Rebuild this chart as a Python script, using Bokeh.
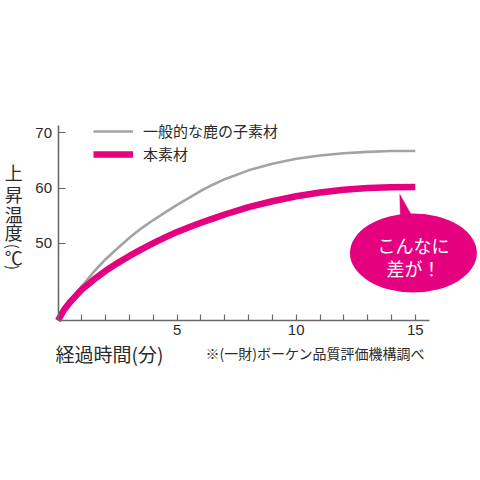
import math
from bokeh.plotting import figure
from bokeh.models import Range1d, FixedTicker, Legend, LegendItem, LinearAxis
from bokeh.core.properties import value
from bokeh.embed import file_html
from bokeh.resources import INLINE

# ---- data ----
minutes = [0, 0.25, 0.5, 1, 1.5, 2, 2.5, 3, 3.5, 4, 4.5, 5, 5.5, 6, 6.5, 7, 8, 9, 10, 11, 12, 13, 14, 15]
general_temp = [36.0, 38.0, 39.5, 42.2, 44.8, 47.1, 49.1, 51.0, 52.7, 54.2, 55.6, 56.95, 58.2, 59.5,
                60.6, 61.6, 63.2, 64.4, 65.3, 65.9, 66.3, 66.55, 66.7, 66.7]
our_temp = [36.0, 37.9, 39.3, 41.6, 43.4, 45.0, 46.4, 47.7, 48.9, 50.0, 51.05, 52.05, 52.9, 53.7,
            54.45, 55.2, 56.55, 57.6, 58.5, 59.2, 59.7, 60.0, 60.15, 60.2]
series_names = ["一般的な鹿の子素材", "本素材"]
x_ticks = list(range(1, 16))
x_tick_labels = {5: "5", 10: "10", 15: "15"}
y_ticks = [50, 60, 70]
ylabel_chars = ["上", "昇", "温", "度", "℃"]
ylabel_parens = ["(", ")"]
xlabel_text = "経過時間(分)"
note_text = "※(一財)ボーケン品質評価機構調べ"
bubble_lines = ["こんなに", "差が！"]

PINK = "#E4007F"
GRAY = "#A3A3A3"
AXIS = "#6a6a6a"
TEXT = "#2b2b2b"
JP = "Noto Sans CJK JP"

# scale: x=0 at 57.5px, 23.82 px/min ; y=36 at 320px, 5.52 px/deg
W = H = 480
X0_PX, XS = 57.5, 23.82
Y0_PX, YS = 320.0, 5.52
x_rng = Range1d(-X0_PX / XS, (W - X0_PX) / XS)
y_rng = Range1d(36 - (H - Y0_PX) / YS, 36 + Y0_PX / YS)

p = figure(width=W, height=H, output_backend="svg", toolbar_location=None,
           x_range=x_rng, y_range=y_rng, x_axis_location=None, y_axis_location=None,
           min_border=0)
p.outline_line_color = None
p.xgrid.visible = False
p.ygrid.visible = False
p.background_fill_color = "white"
p.border_fill_color = "white"

xaxis = LinearAxis(fixed_location=36, ticker=FixedTicker(ticks=x_ticks), bounds=(0, 15.6))
xaxis.major_label_overrides = {t: x_tick_labels.get(t, "") for t in x_ticks}
yaxis = LinearAxis(fixed_location=0, ticker=FixedTicker(ticks=y_ticks), bounds=(36, 71.33))
for ax in (xaxis, yaxis):
    ax.axis_line_color = AXIS
    ax.axis_line_width = 1.6
    ax.major_tick_line_color = AXIS
    ax.major_tick_line_width = 1.2
    ax.major_tick_out = 0
    ax.minor_tick_line_color = None
    ax.major_label_text_font = "Liberation Sans"
    ax.major_label_text_font_size = "15px"
    ax.major_label_text_color = TEXT
xaxis.major_tick_in = 6
yaxis.major_tick_in = 7
xaxis.major_label_standoff = 4
yaxis.major_label_standoff = 6
p.add_layout(xaxis, "below")
p.add_layout(yaxis, "left")

# series
r_gen = p.line(minutes, general_temp, line_color=GRAY, line_width=2.6, line_join="round")
r_our = p.line(minutes, our_temp, line_color=PINK, line_width=6.5, line_join="round")

legend = Legend(items=[LegendItem(label=series_names[0], renderers=[r_gen]),
                       LegendItem(label=series_names[1], renderers=[r_our])],
                location=(93, 316), orientation="vertical")
legend.glyph_width = 40
legend.glyph_height = 20
legend.label_height = 20
legend.spacing = 2
legend.padding = 0
legend.margin = 0
legend.label_standoff = 10
legend.border_line_color = None
legend.background_fill_alpha = 0
legend.label_text_font = JP
legend.label_text_font_size = "15px"
legend.label_text_color = TEXT
p.add_layout(legend)

# speech bubble
bx, by, bw, bh = 14.92, 48.23, 5.33, 14.3
p.patch([14.35, 14.38, 15.05], [58.83, 53.5, 53.5], fill_color=PINK, line_color=PINK, line_width=0.5)
p.ellipse(x=[bx], y=[by], width=bw, height=bh, fill_color=PINK, line_color=None)
p.text(x=[bx, bx], y=[49.6, 45.55], text=bubble_lines, text_color="white",
       text_font=value(JP), text_font_size="18px", text_align="center", text_baseline="middle")

# y label (vertical stacked characters, with rotated parentheses)
ylabel_x = -1.856
ylabel_y = [62.87, 59.0, 55.38, 52.0, 47.47]
p.text(x=[ylabel_x] * len(ylabel_chars), y=ylabel_y, text=ylabel_chars, text_color=TEXT,
       text_font=value(JP), text_font_size="18px", text_align="center", text_baseline="middle")
p.text(x=[ylabel_x, ylabel_x], y=[49.45, 45.6], text=ylabel_parens, text_color=TEXT,
       angle=-math.pi / 2, text_font=value(JP), text_font_size="15px",
       text_align="center", text_baseline="middle")

p.text(x=[-0.105], y=[30.02], text=[xlabel_text], text_color=TEXT, text_font=value(JP),
       text_font_size="19px", text_align="left", text_baseline="middle")
p.text(x=[6.19], y=[30.2], text=[note_text], text_color=TEXT, text_font=value(JP),
       text_font_size="14px", text_align="left", text_baseline="middle")

open("out.html", "w").write(file_html(p, INLINE))
